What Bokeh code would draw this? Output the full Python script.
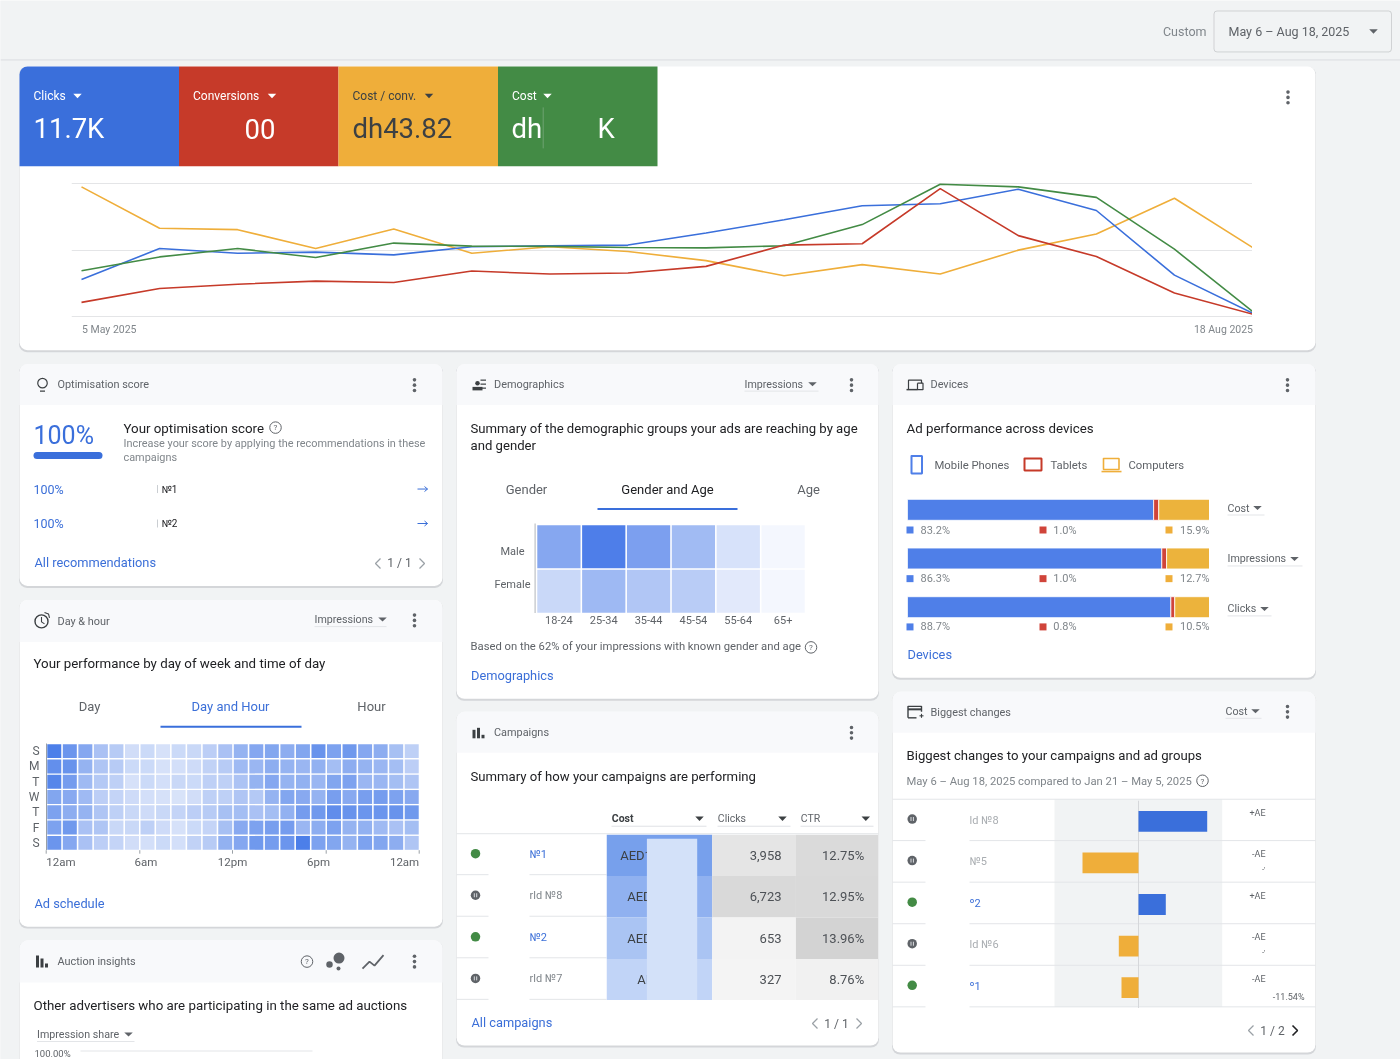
from bokeh.plotting import figure
from bokeh.layouts import column
from bokeh.core.properties import value
from bokeh.models import BoxAnnotation, FixedTicker, LinearColorMapper, ColumnDataSource, Span, FactorRange, Range1d, InlineStyleSheet
from bokeh.embed import file_html
from bokeh.resources import INLINE

# ---------- data ----------
weeks = ["5 May", "12 May", "19 May", "26 May", "2 Jun", "9 Jun", "16 Jun", "23 Jun",
         "30 Jun", "7 Jul", "14 Jul", "21 Jul", "28 Jul", "4 Aug", "11 Aug", "18 Aug"]
cost_conv = [97.5, 66.3, 65.3, 51.1, 65.8, 47.6, 52.4, 48.9, 42.0, 30.6, 39.0, 31.9, 49.9, 62.0, 88.9, 51.9]
clicks = [27.8, 51.1, 47.6, 48.4, 46.3, 52.4, 53.2, 53.7, 62.8, 72.7, 83.3, 84.8, 95.7, 79.7, 31.1, 2.5]
cost = [34.4, 44.8, 51.1, 44.3, 55.2, 52.9, 52.7, 51.9, 51.6, 53.2, 69.1, 99.5, 97.5, 89.6, 50.6, 3.8]
conversions = [10.6, 21.0, 24.3, 26.6, 25.6, 34.2, 31.9, 32.7, 37.7, 53.7, 54.7, 96.2, 60.8, 45.1, 17.7, 1.8]
kpi_labels = ["Clicks", "Conversions", "Cost / conv.", "Cost"]
kpi_values = ["11.7K", "00", "dh43.82", "dh", "K"]

day_labels = ["S", "M", "T", "W", "T", "F", "S"]
hour_labels = ["12am", "6am", "12pm", "6pm", "12am"]
day_hour = [
    [95, 75, 60, 38, 30, 15, 18, 12, 18, 20, 28, 38, 50, 60, 62, 55, 62, 78, 65, 72, 60, 55, 40, 25],
    [80, 78, 50, 35, 30, 18, 18, 12, 14, 16, 24, 30, 45, 48, 55, 50, 48, 52, 42, 55, 50, 48, 42, 28],
    [88, 70, 45, 32, 25, 12, 18, 14, 20, 18, 26, 26, 36, 50, 60, 50, 52, 48, 62, 65, 48, 48, 42, 35],
    [62, 58, 45, 28, 22, 17, 14, 12, 10, 15, 26, 26, 35, 32, 50, 62, 58, 50, 68, 58, 68, 70, 65, 58],
    [65, 55, 50, 35, 25, 20, 17, 20, 22, 28, 30, 40, 42, 38, 42, 52, 70, 72, 82, 78, 75, 75, 78, 72],
    [65, 72, 38, 35, 20, 20, 25, 17, 12, 18, 22, 40, 58, 65, 68, 70, 48, 55, 65, 50, 52, 45, 38, 42],
    [75, 60, 38, 28, 22, 15, 14, 18, 14, 24, 30, 52, 60, 72, 70, 75, 95, 65, 62, 50, 65, 62, 55, 35],
]

age_groups = ["18-24", "25-34", "35-44", "45-54", "55-64", "65+"]
male_share = [67, 100, 72, 50, 20, 3]
female_share = [28, 52, 42, 36, 14, 2]

device_metrics = ["Cost", "Impressions", "Clicks"]
mobile_bar = [81.5, 84.2, 87.2]
tablet_bar = [1.7, 1.6, 1.3]
computer_bar = [16.8, 14.2, 11.5]
mobile_labels = ["83.2%", "86.3%", "88.7%"]
tablet_labels = ["1.0%", "1.0%", "0.8%"]
computer_labels = ["15.9%", "12.7%", "10.5%"]

campaign_names = ["№1", "rld №8", "№2", "rld №7"]
campaign_status = ["on", "paused", "on", "paused"]
campaign_cost_text = ["AED1", "AED", "AED", "AI"]
campaign_cost_rank = [100, 72, 45, 20]
campaign_clicks = [3958, 6723, 653, 327]
campaign_ctr = [12.75, 12.95, 13.96, 8.76]

change_names = ["ld №8", "№5", "º2", "ld №6", "º1"]
change_status = ["paused", "paused", "on", "paused", "on"]
change_values = [68.7, -56.0, 27.3, -19.7, -17.0]
change_text = ["+AE", "-AE", "+AE", "-AE", "-AE"]

# ---------- palette ----------
BLUE, RED, YEL, GRN = "#3a6fdb", "#c63a29", "#efae3a", "#438b45"
BAR_BLUE = "#4f7fe8"
LINK = "#3b6fd8"
DARK, MID, LIGHT = "#202124", "#5f6368", "#80868b"
FONT = "Roboto"
LEFT_GUTTER = 33
HEAD, BODY, LINKSZ = 10.9, 13.3, 12.8


def mix_palette(low, high, n=64):
    a = [int(low[i:i + 2], 16) for i in (1, 3, 5)]
    b = [int(high[i:i + 2], 16) for i in (1, 3, 5)]
    return ["#%02x%02x%02x" % tuple(round(a[k] + (b[k] - a[k]) * i / (n - 1)) for k in range(3)) for i in range(n)]


# ---------- page background figure in page pixels ----------
p = figure(frame_width=1401, frame_height=1060, x_range=(0, 1401), y_range=(1060, 0), output_backend="svg",
           toolbar_location=None, min_border=0, min_border_left=LEFT_GUTTER, outline_line_color=None,
           x_axis_location=None, y_axis_location=None,
           background_fill_color="#f1f3f4", border_fill_color="#f1f3f4",
           stylesheets=[InlineStyleSheet(css=":host{max-width:none !important;width:1434px !important;}")],
           styles={"position": "fixed", "left": f"{-LEFT_GUTTER - 0.5}px", "top": "-0.4px"})
p.grid.visible = False


def box(x0, y0, x1, y1, fill, radius=0, line=None, lw=1):
    p.add_layout(BoxAnnotation(left=x0, right=x1, top=y0, bottom=y1, fill_color=fill, fill_alpha=1,
                               line_color=line, line_width=lw, border_radius=radius, level="underlay"))


def T(x, y, s, size=11, color=MID, align="left", style="normal"):
    p.text(x=[x], y=[y], text=[s], text_font=value(FONT), text_font_size=f"{size}px", text_color=color,
           text_align=align, text_baseline="middle", text_font_style=style)


def L(xs, ys, color=MID, w=1.0, cap="butt"):
    p.line(xs, ys, line_color=color, line_width=w, line_cap=cap)


def dots(x, y):
    p.scatter([x, x, x], [y - 5.3, y, y + 5.3], size=3.6, color=MID, line_color=None)


def tri(x, y, w=8.5, h=4.5, color=MID):
    p.patch([x - w / 2, x + w / 2, x], [y - h / 2, y - h / 2, y + h / 2], color=color, line_color=None)


def helpicon(x, y):
    p.scatter([x], [y], size=11.5, fill_color=None, line_color=MID, line_width=1)
    T(x, y + .3, "?", 8, MID, "center")


def dropdown(x, y, s, tx, end):
    T(x, y, s, 10.7, MID)
    tri(tx, y, 8.5, 4)
    L([x, end], [y + 7, y + 7], "#e3e5e8", 1)


def pager(cx, y, s, next_dark=False):
    L([cx - 19, cx - 24, cx - 19], [y - 5, y, y + 5], "#9aa0a6", 1.3)
    nx = cx + 20
    L([nx, nx + 5, nx], [y - 5, y, y + 5], DARK if next_dark else "#9aa0a6", 1.6 if next_dark else 1.3)
    T(cx, y, s, 12, MID, "center")


def status_dot(x, y, st):
    if st == "on":
        p.scatter([x], [y], size=9.5, color=GRN, line_color=None)
    else:
        p.scatter([x], [y], size=9.5, color=MID, line_color=None)
        L([x - 1.2, x - 1.2], [y - 2, y + 2], "#e8eaed", .9)
        L([x + 1.2, x + 1.2], [y - 2, y + 2], "#e8eaed", .9)


def card(x0, y0, x1, y1, header_end=None, title=None):
    box(x0 - .5, y0 + .5, x1 + .5, y1 + 2, "#d4d6d9", 8)
    box(x0, y0, x1, y1, "#ffffff", 8)
    if header_end:
        box(x0, y0, x1, header_end, "#f8f9fb", (8, 8, 0, 0))
    if title:
        T(title[0], (y0 + header_end) / 2 + .3, title[1], HEAD, MID)


# --- top bar
L([0, 1401], [59.5, 59.5], "#dadce0", 1)
T(1206, 31, "Custom", 12.5, LIGHT, "right")
box(1213.5, 10.5, 1391, 51.5, "#f1f3f4", 3, "#83878b", 1)
T(1228, 31, "May 6 – Aug 18, 2025", 12.5, MID)
tri(1373, 31, 8.5, 4.5)

# --- top card
card(19, 66, 1315, 350)
kpi_x = [19, 178.5, 338, 497.5]
for i, (c, lab) in enumerate(zip([BLUE, RED, YEL, GRN], kpi_labels)):
    box(kpi_x[i], 66, kpi_x[i] + 159.5, 166, c, (8, 0, 0, 0) if i == 0 else 0)
    tc = "#3c4043" if i == 2 else "#ffffff"
    T(kpi_x[i] + 14, 95.8, lab, 12, tc)
for x, s, tc in zip([77, 271.5, 428.5, 547], kpi_labels, ["#fff", "#fff", "#3c4043", "#fff"]):
    tri(x, 95.5, 8.5, 4.5, tc)
for x, s, tc in zip([33, 244, 352, 511, 597], kpi_values, ["#fff", "#fff", "#3c4043", "#fff", "#fff"]):
    T(x, 128.5, s, 27.5, tc)
L([542.7, 542.7], [107, 148], "#6ea272", 1)
dots(1287.5, 97)
T(81.5, 329, "5 May 2025", 10.5, LIGHT)
T(1252.5, 329, "18 Aug 2025", 10.5, LIGHT, "right")

# --- optimisation score
card(19, 364, 442, 586, 405, (57, "Optimisation score"))
p.scatter([42], [383], size=9.5, fill_color=None, line_color="#3c4043", line_width=1.2)
L([39.5, 44.5], [391, 391], "#3c4043", 1.3)
dots(414, 385)
T(33, 435, "100%", 25, BLUE)
L([36.5, 98.5], [455.5, 455.5], BLUE, 7, "round")
T(123, 428, "Your optimisation score", BODY, DARK)
helpicon(275, 427.5)
T(123, 443.5, "Increase your score by applying the recommendations in these", 10.9, LIGHT)
T(123, 457.5, "campaigns", 10.9, LIGHT)
for y, s in zip([489, 523.5], ["№1", "№2"]):
    T(33, y, "100%", 12.5, LINK)
    T(161, y, s, 10, DARK)
    L([157, 157], [y - 4, y + 4], "#bdc1c6", .8)
    L([417, 427], [y, y], LINK, 1)
    L([424, 427, 424], [y - 2.5, y, y + 2.5], LINK, 1)
T(34, 562.5, "All recommendations", LINKSZ, LINK)
pager(399, 563.5, "1 / 1")

# --- day & hour
card(19, 600, 442, 927, 642, (57, "Day & hour"))
p.scatter([41], [621.5], size=13, fill_color=None, line_color="#3c4043", line_width=1.4)
L([41, 41, 44], [617, 622, 624], "#3c4043", 1.1)
L([44, 48, 49], [612.5, 614, 618], "#3c4043", 1.1)
dropdown(314, 619.7, "Impressions", 382, 386)
dots(414, 620.5)
T(33, 664, "Your performance by day of week and time of day", BODY, DARK)
T(89, 707, "Day", 13, MID, "center")
T(230, 707, "Day and Hour", 13, LINK, "center")
T(371, 707, "Hour", 13, MID, "center")
L([160, 301], [727, 727], BLUE, 2)
for x, s, a, tk in zip([45.7, 145.5, 232, 318, 418.7], hour_labels, ["left", "center", "center", "center", "right"],
                       [45.7, 139.3, 232, 325.7, 418.7]):
    T(x, 862, s, 11.5, MID, a)
    L([tk, tk], [850.5, 854], "#9aa0a6", 1)
T(34, 904, "Ad schedule", LINKSZ, LINK)

# --- auction insights
card(19, 941, 442, 1075, 983, (57, "Auction insights"))
L([37, 37], [956, 968], "#3c4043", 3)
L([41.5, 41.5], [959, 968], "#3c4043", 3)
L([46, 46], [964, 968], "#3c4043", 3)
helpicon(306.5, 962)
p.scatter([329, 338.5, 338], [965, 958.5, 969], size=[6.5, 11, 4], color=MID, line_color=None)
L([362, 369, 374, 383], [969, 962, 966, 955.5], MID, 1.8)
dots(414, 962)
T(33, 1005.5, "Other advertisers who are participating in the same ad auctions", BODY, DARK)
dropdown(36.5, 1035, "Impression share", 128, 134)
T(34, 1054, "100.00%", 9.5, MID)
L([80, 312], [1051.5, 1051.5], "#e3e5e8", 1)

# --- demographics
card(456, 364, 878, 699, 405, (493.5, "Demographics"))
p.scatter([477], [383], size=4.5, color="#3c4043", line_color=None)
L([472, 482], [388.5, 388.5], "#3c4043", 3.5)
for y in [380, 384, 388]:
    L([480, 485.5], [y, y], "#3c4043", 1.2)
dropdown(744, 384, "Impressions", 812, 818)
dots(851, 385)
T(470, 428, "Summary of the demographic groups your ads are reaching by age", 13.15, DARK)
T(470, 445.5, "and gender", 13.15, DARK)
T(526, 489, "Gender", 13, MID, "center")
T(667, 489, "Gender and Age", 13, DARK, "center")
T(808, 489, "Age", 13, MID, "center")
L([597, 737], [509, 509], BLUE, 2)
L([534.6, 534.6], [523.5, 613], "#bdc1c6", 1.2)
T(512, 551.7, "Male", 11, MID, "center")
T(512, 585, "Female", 11, MID, "center")
T(470, 647, "Based on the 62% of your impressions with known gender and age", 11.25, MID)
helpicon(810.5, 647.5)
T(470.5, 675.5, "Demographics", LINKSZ, LINK)

# --- campaigns
card(456, 712, 878, 1046, 753, (493.5, "Campaigns"))
L([473.5, 473.5], [730, 738.5], "#3c4043", 3)
L([478, 478], [728, 738.5], "#3c4043", 3)
L([482.5, 482.5], [735, 738.5], "#3c4043", 3)
dots(851, 733)
T(470, 776.5, "Summary of how your campaigns are performing", 13.15, DARK)
T(611.3, 819, "Cost", 10.5, "#3c4043", style="bold")
T(717.3, 819, "Clicks", 10.5, MID)
T(800.3, 819, "CTR", 10.5, MID)
for x0, x1, tx in zip([611, 717, 800], [706, 790, 873], [699, 782, 865.3]):
    tri(tx, 819, 8.5, 4.5, "#3c4043")
    L([x0, x1], [826.5, 826.5], "#dfe1e5", 1)
L([456, 878], [834, 834], "#e3e5e8", 1)
for i, (nm, st) in enumerate(zip(campaign_names, campaign_status)):
    y = 854 + i * 41.6
    status_dot(475, y, st)
    T(529, y + .5, nm, 11, LINK if st == "on" else LIGHT)
    L([456, 488], [y + 21, y + 21], "#e3e5e8", 1)
    L([529, 606], [y + 21, y + 21], "#e3e5e8", 1)
T(471, 1023, "All campaigns", LINKSZ, LINK)
pager(836, 1024, "1 / 1")

# --- devices
card(892, 364, 1315, 678, 405, (930, "Devices"))
L([908, 908, 921, 921], [389, 380, 380, 383], "#3c4043", 1.2)
L([906, 917], [389.5, 389.5], "#3c4043", 1.5)
L([917, 917, 922.5, 922.5, 917], [383, 389.5, 389.5, 383, 383], "#3c4043", 1.2)
dots(1287, 385)
T(906, 428, "Ad performance across devices", BODY, DARK)
for x0, y0, x1, y1, c, lw in [(911, 456, 921.5, 473.5, BAR_BLUE, 2), (1024, 458.5, 1041, 470.5, RED, 2),
                              (1103, 458.5, 1118.5, 469.5, YEL, 1.6)]:
    L([x0, x1, x1, x0, x0], [y0, y0, y1, y1, y0], c, lw, "round")
L([1101, 1121], [471.5, 471.5], YEL, 1.6)
T(934, 465, "Mobile Phones", 11.3, MID)
T(1050, 465, "Tablets", 11.3, MID)
T(1128, 465, "Computers", 11.3, MID)
for i, (y, m, t, c) in enumerate(zip([530, 578.7, 627], mobile_labels, tablet_labels, computer_labels)):
    box(906, y - 3.5, 913, y + 3.5, BAR_BLUE)
    box(1039, y - 3.5, 1046, y + 3.5, "#d0443a")
    box(1165, y - 3.5, 1172, y + 3.5, YEL)
    T(920, y, m, 11, LIGHT)
    T(1052.7, y, t, 11, LIGHT)
    T(1209, y, c, 11, LIGHT, "right")
dropdown(1227, 508, "Cost", 1257, 1264)
dropdown(1227, 559, "Impressions", 1294, 1302)
dropdown(1227, 609, "Clicks", 1264, 1271)
T(907, 654.5, "Devices", LINKSZ, LINK)

# --- biggest changes
card(892, 692, 1315, 1053, 733, (930, "Biggest changes"))
L([907.5, 907.5, 921, 921], [718, 706.5, 706.5, 712], "#3c4043", 1.4)
L([907.5, 916], [718, 718], "#3c4043", 1.4)
L([907.5, 921], [709.5, 709.5], "#3c4043", 2)
L([919, 923], [716, 716], "#3c4043", 1.1)
L([921, 921], [714, 718], "#3c4043", 1.1)
dropdown(1225, 711.5, "Cost", 1255, 1261)
dots(1287, 712)
T(906, 756, "Biggest changes to your campaigns and ad groups", 13.15, DARK)
T(906, 782, "May 6 – Aug 18, 2025 compared to Jan 21 – May 5, 2025", 11.25, LIGHT)
helpicon(1202, 781)
box(1054, 799.5, 1221.7, 1007.5, "#f1f3f4")
L([892, 1315], [799.5, 799.5], "#e3e5e8", 1)
for i, (nm, st, tx) in enumerate(zip(change_names, change_status, change_text)):
    y = 820 + i * 41.6
    status_dot(911.7, y - .7, st)
    T(969, y + .3, nm, 11, LINK if st == "on" else "#a9adb1")
    T(1265, y - 7, tx, 9, MID, "right")
    L([892, 925], [y + 20.9, y + 20.9], "#e3e5e8", 1)
    L([969, 1315], [y + 20.9, y + 20.9], "#e3e5e8", 1)
for y in [870, 953]:
    T(1265, y, "-'", 8, MID, "right")
T(1304, 997, "-11.54%", 9, MID, "right")
box(1266, 985, 1310, 995, "#ffffff")
pager(1272, 1031, "1 / 2", True)


# ---------- chart panels ----------
panels = []


def panel(left, top, w, h, xr, yr, mr=0, mt=0, mb=0, xloc=None, yloc=None):
    f = figure(frame_width=w, frame_height=h, x_range=xr, y_range=yr, output_backend="svg",
               toolbar_location=None, min_border_left=LEFT_GUTTER, min_border_right=mr, min_border_top=mt,
               min_border_bottom=mb, outline_line_color=None, background_fill_alpha=0, border_fill_alpha=0,
               x_axis_location=xloc, y_axis_location=yloc,
               styles={"position": "fixed", "left": f"{left - LEFT_GUTTER}px", "top": f"{top - mt}px"})
    f.grid.visible = False
    panels.append(f)
    return f


# line chart
px_per_week = 1171 / (len(weeks) - 1)
lc = panel(71, 182, 1181, 135, (-10 / px_per_week, len(weeks) - 1), (-0.76, 100.76))
lc.ygrid.visible = True
lc.ygrid.ticker = FixedTicker(ticks=[0, 50, 100])
lc.ygrid.grid_line_color = "#e4e5e7"
idx = list(range(len(weeks)))
for vals, c in zip([cost_conv, clicks, cost, conversions], [YEL, BLUE, GRN, RED]):
    lc.line(idx, vals, line_color=c, line_width=1.6)

# day & hour heat map
dh_x, dh_y, dh_v = [], [], []
for r, row in enumerate(day_hour):
    for c, v in enumerate(row):
        dh_x.append(c + .5)
        dh_y.append(r + .5)
        dh_v.append(v)
hm = panel(45.7, 742.7, 373, 107, (0, len(day_hour[0])), (len(day_hour), 0), yloc="left")
hm.rect("x", "y", width=.9, height=.91, source=ColumnDataSource(dict(x=dh_x, y=dh_y, v=dh_v)),
        fill_color={"field": "v", "transform": LinearColorMapper(mix_palette("#e8eefb", "#4479e8"), low=0, high=100)},
        line_color=None)
hm.yaxis.ticker = FixedTicker(ticks=[i + .5 for i in range(len(day_labels))])
hm.yaxis.major_label_overrides = {i + .5: s for i, s in enumerate(day_labels)}
hm.yaxis.major_tick_line_color = None
hm.yaxis.minor_tick_line_color = None
hm.yaxis.major_tick_out = 0
hm.yaxis.major_tick_in = 0
hm.yaxis.axis_line_color = "#9aa0a6"
hm.yaxis.major_label_text_font = FONT
hm.yaxis.major_label_text_font_size = "12px"
hm.yaxis.major_label_text_color = MID
hm.yaxis.major_label_standoff = 7

# demographics heat map
demo_x = [i + .5 for i in range(len(age_groups))] * 2
demo_y = [.5] * len(age_groups) + [1.5] * len(age_groups)
dm = panel(535.5, 523.5, 269, 89, (0, len(age_groups)), (2, 0), mb=16, xloc="below")
dm.rect("x", "y", width=.965, height=.97, source=ColumnDataSource(dict(x=demo_x, y=demo_y, v=male_share + female_share)),
        fill_color={"field": "v", "transform": LinearColorMapper(mix_palette("#f7f9fe", "#4e7ee9"), low=0, high=100)},
        line_color=None)
dm.xaxis.ticker = FixedTicker(ticks=[i + .5 for i in range(len(age_groups))])
dm.xaxis.major_label_overrides = {i + .5: s for i, s in enumerate(age_groups)}
dm.xaxis.axis_line_color = None
dm.xaxis.major_tick_line_color = None
dm.xaxis.minor_tick_line_color = None
dm.xaxis.major_tick_out = 0
dm.xaxis.major_tick_in = 0
dm.xaxis.major_label_text_font = FONT
dm.xaxis.major_label_text_font_size = "11px"
dm.xaxis.major_label_text_color = MID
dm.xaxis.major_label_standoff = 2

# device stacked bars
dv = panel(907, 485, 302, 146, Range1d(0, 100), FactorRange(factors=device_metrics[::-1]))
dv.hbar_stack(["mobile", "tablet", "computer"], y="metric", height=.43,
              color=[BAR_BLUE, "#d0443a", "#ecb33c"], line_color="#ffffff", line_width=.8,
              source=ColumnDataSource(dict(metric=device_metrics, mobile=mobile_bar, tablet=tablet_bar, computer=computer_bar)))

# campaign table
col_edges = [0, 105.7, 189.4, 271.7]
tb = panel(606.3, 834, 272, 166, (0, 272), (len(campaign_clicks), 0))
rows = [i + .5 for i in range(len(campaign_clicks))]
for k, vals, mapper in [
    (0, campaign_cost_rank, LinearColorMapper(mix_palette("#d2e0f9", "#77a0ec"), low=0, high=100)),
    (1, campaign_clicks, LinearColorMapper(mix_palette("#f4f4f4", "#d9d9d9"), low=min(campaign_clicks), high=max(campaign_clicks))),
    (2, campaign_ctr, LinearColorMapper(mix_palette("#f1f1f1", "#d3d3d3"), low=min(campaign_ctr), high=max(campaign_ctr))),
]:
    tb.hbar(y="y", left=col_edges[k], right=col_edges[k + 1], height=1,
            source=ColumnDataSource(dict(y=rows, v=vals)),
            fill_color={"field": "v", "transform": mapper}, line_color=None)
tb.text(x=[13.7, 20.7, 20.7, 30.7], y=rows, text=campaign_cost_text, text_font=value(FONT), text_font_size="13px",
        text_color="#3c4043", text_baseline="middle")
tb.quad(left=40.4, right=90.7, top=.1, bottom=len(rows), fill_color="#d3e1f9", line_color=None)
tb.text(x=[175] * 4, y=rows, text=[f"{v:,}" for v in campaign_clicks], text_font=value(FONT), text_font_size="13px",
        text_color="#4d5156", text_align="right", text_baseline="middle")
tb.text(x=[257.7] * 4, y=rows, text=[f"{v:.2f}%" for v in campaign_ctr], text_font=value(FONT), text_font_size="13px",
        text_color="#4d5156", text_align="right", text_baseline="middle")

# biggest changes bars
bc = panel(1054, 799.5, 168, 208, (-84, 84), (len(change_values), 0))
bc.add_layout(Span(location=0, dimension="height", line_color="#d5d7da", line_width=1, level="underlay"))
bc.hbar(y=[i + .5 for i in range(len(change_values))], left=0, right=change_values, height=.5,
        color=[BLUE if v > 0 else YEL for v in change_values], line_color=None)

page = column(p, *panels)
open("out.html", "w").write(file_html(page, INLINE))
